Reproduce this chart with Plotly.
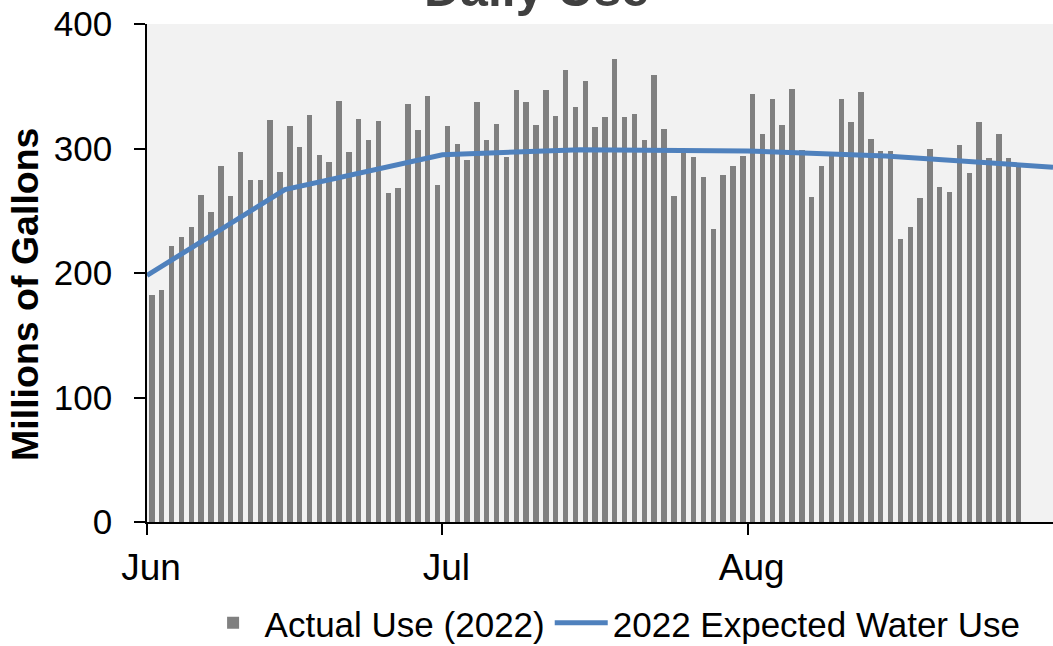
import plotly.graph_objects as go
import pandas as pd

# Daily actual use (millions of gallons), Jun 1 – Aug 28, 2022
jun_use = [182, 186, 222, 229, 237, 263, 249, 286, 262, 297,
           275, 275, 323, 281, 318, 301, 327, 295, 289, 338,
           297, 324, 307, 322, 264, 268, 336, 315, 342, 271]
jul_use = [318, 304, 291, 337, 307, 320, 293, 347, 337, 319,
           347, 326, 363, 333, 354, 317, 325, 372, 325, 328,
           307, 359, 316, 262, 296, 293, 277, 235, 279, 286, 294]
aug_use = [344, 312, 340, 319, 348, 299, 261, 286, 294, 340,
           321, 345, 308, 298, 298, 227, 237, 260, 300, 269,
           265, 303, 280, 321, 292, 312, 292, 286]
actual_use = jun_use + jul_use + aug_use
actual_dates = pd.date_range("2022-06-01", periods=len(actual_use), freq="D") + pd.Timedelta(hours=12)

# Expected water use (semi-monthly points)
expected_dates = ["2022-06-01", "2022-06-15", "2022-07-01", "2022-07-15",
                  "2022-08-01", "2022-08-15", "2022-09-01"]
expected_use = [198, 267, 295, 299, 298, 294, 285]

month_ticks = ["2022-06-01", "2022-07-01", "2022-08-01"]
month_labels = ["Jun", "Jul", "Aug"]

FONT = "Liberation Sans, Arial, sans-serif"

fig = go.Figure()
fig.add_trace(go.Bar(
    x=actual_dates, y=actual_use, name="Actual Use (2022)",
    marker=dict(color="#808080", line=dict(width=0)),
    width=0.55 * 86400000,
))
fig.add_trace(go.Scatter(
    x=expected_dates, y=expected_use, name="2022 Expected Water Use",
    mode="lines", line=dict(color="#4f81bd", width=5),
))

fig.update_layout(
    width=1053, height=646,
    margin=dict(l=147, r=0, t=24, b=124, autoexpand=False),
    paper_bgcolor="white", plot_bgcolor="#f2f2f2",
    font=dict(family=FONT, color="black", size=34),
    showlegend=True,
    legend=dict(orientation="h", x=0.515, xanchor="center", y=-0.203, yanchor="middle",
                font=dict(size=35), itemwidth=53, traceorder="normal"),
    bargap=0,
)
fig.add_annotation(
    text="<b>Daily Use</b>", xref="paper", yref="paper", x=0.43, y=1,
    xanchor="center", yanchor="bottom", yshift=5, showarrow=False,
    font=dict(size=50, color="#404040", family=FONT),
)
fig.add_annotation(
    text="<b>Millions of Gallons</b>", xref="paper", yref="paper",
    x=-0.1347, y=0.458, xanchor="center", yanchor="middle", textangle=-90,
    showarrow=False, font=dict(size=37.5, color="black", family=FONT),
)
fig.update_xaxes(
    type="date", range=["2022-06-01", "2022-09-01"],
    tickvals=month_ticks, ticktext=month_labels,
    ticks="outside", ticklen=11, tickcolor="black", tickwidth=1.5,
    showline=True, linecolor="black", linewidth=1.5,
    showgrid=False, zeroline=False, automargin=False,
    tickfont=dict(size=37), ticklabelstandoff=1, ticklabelshift=4,
)
fig.update_yaxes(
    range=[0, 400], dtick=100,
    ticks="outside", ticklen=11, tickcolor="black", tickwidth=1.5,
    showline=True, linecolor="black", linewidth=1.5,
    showgrid=False, zeroline=False, automargin=False,
    tickfont=dict(size=35), ticklabelstandoff=15,
)

fig.write_html(
    "out.html",
    config={"displayModeBar": False},
    post_script="document.body.style.margin='0';document.body.style.overflow='hidden';",
)
